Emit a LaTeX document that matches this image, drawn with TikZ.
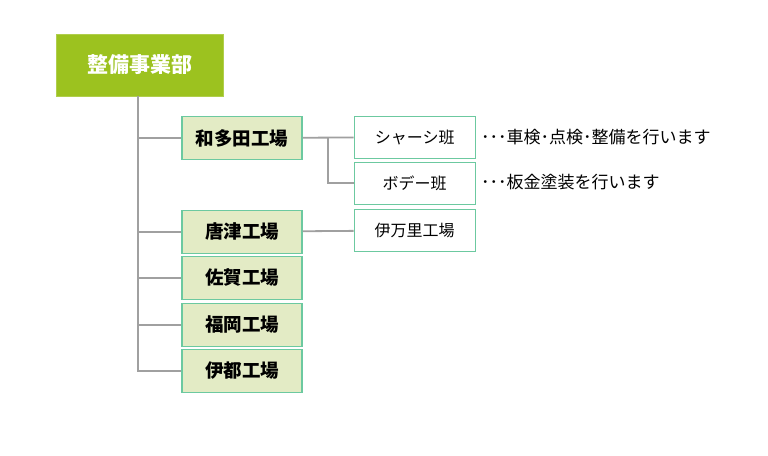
\documentclass[tikz,border=0pt]{standalone}
\usepackage{fontspec}
\setmainfont{Noto Sans CJK JP}
\definecolor{leafgreen}{HTML}{9CC21F}
\definecolor{mintline}{HTML}{6CC9A0}
\definecolor{palegreen}{HTML}{E3EBC5}
\definecolor{wiregray}{HTML}{A0A0A0}
\tikzset{
  headbox/.style={fill=leafgreen,draw=leafgreen!80!white,line width=0.8pt,text=white,
    font=\fontsize{21}{24}\selectfont\bfseries,minimum width=167pt,minimum height=62pt,inner sep=0pt},
  plantbox/.style={fill=palegreen,draw=mintline,line width=1.3pt,
    font=\fontsize{18.5}{22}\selectfont\bfseries,minimum width=120pt,minimum height=43pt,inner sep=0pt},
  teambox/.style={fill=white,draw=mintline,line width=1.3pt,
    font=\fontsize{16}{19}\selectfont,minimum width=121pt,minimum height=42pt,inner sep=0pt},
  note/.style={anchor=west,inner sep=0pt,font=\fontsize{17}{20}\selectfont},
  wire/.style={draw=wiregray,line width=1.8pt}
}
\begin{document}
\begin{tikzpicture}[x=1pt,y=-1pt]
    \useasboundingbox (0,0) rectangle (768,455);
    \node (head)     at (139.5,65.0)  [headbox]  {整備事業部};
    \node (wada)     at (242.0,138.0) [plantbox] {和多田工場};
    \node (karatsu)  at (242.0,231.7) [plantbox] {唐津工場};
    \node (saga)     at (242.0,278.0) [plantbox] {佐賀工場};
    \node (fukuoka)  at (242.0,324.7) [plantbox] {福岡工場};
    \node (ito)      at (242.0,371.0) [plantbox] {伊都工場};
    \node (chassis)  at (414.7,137.2) [teambox]  {シャーシ班};
    \node (body)     at (414.7,183.3) [teambox]  {ボデー班};
    \node (imari)    at (414.7,230.4) [teambox]  {伊万里工場};
    \node (chassisnote) at (481.0,137.0) [note] {･･･車検･点検･整備を行います};
    \node (bodynote)    at (481.0,182.0) [note] {･･･板金塗装を行います};
    \coordinate (trunk) at (137.8,96.0);
    \coordinate (fork)  at (328.3,137.0);
    % trunk and branches
    \draw[wire] (trunk) |- (ito.west);
    \draw[wire] (trunk) |- (wada.west);
    \draw[wire] (trunk) |- (karatsu.west);
    \draw[wire] (trunk) |- (saga.west);
    \draw[wire] (trunk) |- (fukuoka.west);
    \draw[wire] (wada) -- (chassis);
    \draw[wire] (fork) |- (body.west);
    \draw[wire] (karatsu) -- (imari);
\end{tikzpicture}
\end{document}
